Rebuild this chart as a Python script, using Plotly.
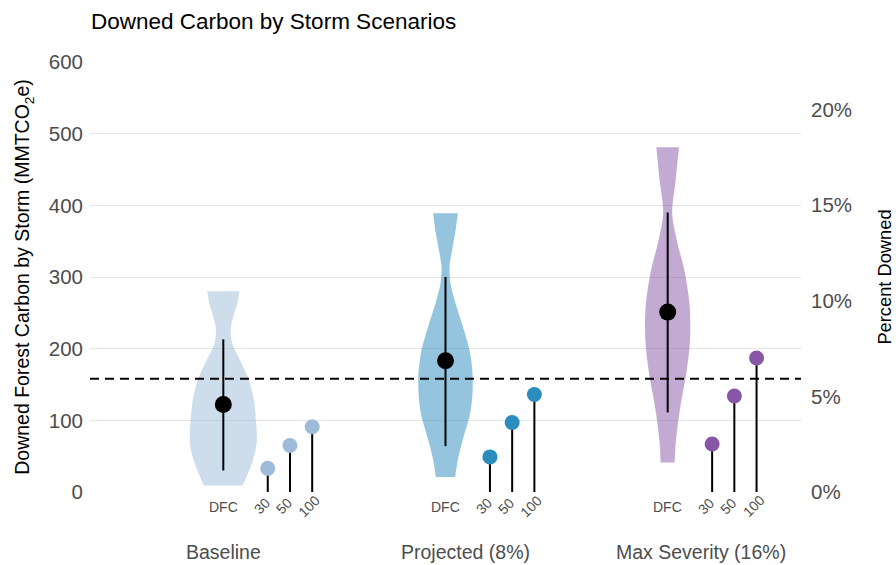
import plotly.graph_objects as go

# ---------------- data ----------------
groups = ["Baseline", "Projected (8%)", "Max Severity (16%)"]
storm_labels = ["30", "50", "100"]

# DFC summary (mean and interval) in MMTCO2e
dfc_mean = [122, 183, 251]
dfc_low = [30, 64, 111]
dfc_high = [213, 300, 390]

# downed carbon for storm return intervals 30, 50, 100
storm_baseline = [33, 65, 91]
storm_projected = [49, 97, 136]
storm_maxsev = [67, 134, 187]

# violin profiles: carbon values (top -> bottom) and relative density
vio_baseline_y = [280, 263, 245, 226, 207, 184, 161, 133, 105, 68, 40, 9]
vio_baseline_d = [0.48, 0.42, 0.30, 0.22, 0.27, 0.50, 0.73, 0.90, 0.97, 1.00, 0.86, 0.58]
vio_projected_y = [389, 361, 338, 314, 291, 268, 231, 198, 166, 138, 110, 73, 45, 21]
vio_projected_d = [0.37, 0.29, 0.20, 0.12, 0.15, 0.27, 0.52, 0.72, 0.81, 0.81, 0.74, 0.52, 0.37, 0.29]
vio_maxsev_y = [481, 435, 389, 352, 305, 259, 212, 166, 119, 73, 41]
vio_maxsev_d = [0.34, 0.24, 0.135, 0.27, 0.52, 0.66, 0.67, 0.56, 0.38, 0.25, 0.21]

reference_line = 158          # dashed reference (MMTCO2e)
total_carbon = 2667           # for percent axis (MMTCO2e)

colors = ["#9ebcda", "#2b8cbe", "#8856a7"]
violin_colors = ["rgba(158,188,218,0.5)", "rgba(43,140,190,0.5)", "rgba(136,86,167,0.5)"]

# ---------------- layout helpers ----------------
storm_offsets = [0.2, 0.3, 0.4]
violin_scale = 0.15
group_label_x = [0.0, 1.09, 2.15]

storms = [storm_baseline, storm_projected, storm_maxsev]
vio_y = [vio_baseline_y, vio_projected_y, vio_maxsev_y]
vio_d = [vio_baseline_d, vio_projected_d, vio_maxsev_d]

FONT = "Liberation Sans, Arial, sans-serif"
GREY = "#4d4d4d"

fig = go.Figure()


def dup_ends(seq):
    return [seq[0]] + list(seq) + [seq[-1]]


for g in range(3):
    ys = vio_y[g]
    ds = vio_d[g]
    xr = [g + d * violin_scale for d in ds]
    xl = [g - d * violin_scale for d in ds]
    px = dup_ends(xr) + dup_ends(xl[::-1])
    py = dup_ends(ys) + dup_ends(ys[::-1])
    fig.add_trace(go.Scatter(
        x=px, y=py, fill="toself",
        fillcolor=violin_colors[g], line=dict(width=0, shape="spline", smoothing=0.9),
        mode="lines", hoverinfo="skip", showlegend=False))

# lollipops
for g in range(3):
    sx, sy = [], []
    for i, v in enumerate(storms[g]):
        sx += [g + storm_offsets[i], g + storm_offsets[i], None]
        sy += [0, v, None]
    fig.add_trace(go.Scatter(x=sx, y=sy, mode="lines",
                             line=dict(color="black", width=2),
                             hoverinfo="skip", showlegend=False))
    fig.add_trace(go.Scatter(
        x=[g + o for o in storm_offsets], y=storms[g], mode="markers",
        marker=dict(size=15, color=colors[g]), showlegend=False))

# DFC mean with interval
fig.add_trace(go.Scatter(
    x=[0, 1, 2], y=dfc_mean, mode="markers",
    marker=dict(size=17, color="black"),
    error_y=dict(type="data", symmetric=False,
                 array=[h - m for h, m in zip(dfc_high, dfc_mean)],
                 arrayminus=[m - l for m, l in zip(dfc_mean, dfc_low)],
                 color="black", thickness=2, width=0),
    showlegend=False))

# invisible trace for the percent axis
fig.add_trace(go.Scatter(
    x=[g + storm_offsets[2] for g in range(3)],
    y=[s[2] / total_carbon for s in storms], yaxis="y2",
    mode="markers", marker=dict(opacity=0), hoverinfo="skip", showlegend=False))

# dashed reference line
fig.add_shape(type="line", xref="paper", x0=0, x1=1, yref="y",
              y0=reference_line, y1=reference_line,
              line=dict(color="black", width=2, dash="9px,6px"))

# sub labels
for g in range(3):
    fig.add_annotation(x=g, xref="x", y=-0.035, yref="paper", text="DFC",
                       showarrow=False, font=dict(size=14, color=GREY, family=FONT),
                       xanchor="center", yanchor="middle")
    for i, lab in enumerate(storm_labels):
        fig.add_annotation(x=g + storm_offsets[i], xref="x", y=-0.032, yref="paper",
                           text=lab, textangle=-45, showarrow=False,
                           xshift=3 * len(lab) - 12,
                           font=dict(size=14, color=GREY, family=FONT),
                           xanchor="center", yanchor="middle")
    fig.add_annotation(x=group_label_x[g], xref="x", y=-0.14, yref="paper",
                       text=groups[g], showarrow=False,
                       font=dict(size=19.5, color=GREY, family=FONT),
                       xanchor="center", yanchor="middle")

fig.update_layout(
    width=896, height=565,
    margin=dict(l=90, r=95, t=62, b=73),
    paper_bgcolor="white", plot_bgcolor="white",
    font=dict(family=FONT, color=GREY),
    title=dict(text="Downed Carbon by Storm Scenarios", x=91 / 896, xanchor="left",
               y=1 - 21 / 565, yanchor="middle",
               font=dict(size=22.5, color="black", family=FONT)),
    xaxis=dict(range=[-0.6, 2.6], showticklabels=False, showgrid=False,
               zeroline=False, showline=False, ticks=""),
    yaxis=dict(range=[0, 600], dtick=100, showgrid=True, gridcolor="#e5e5e5",
               gridwidth=1, zeroline=False, showline=False, ticks="",
               automargin=False, ticklabelstandoff=6,
               tickfont=dict(size=20.5, color=GREY, family=FONT),
               title=dict(text="Downed Forest Carbon by Storm (MMTCO<sub>2</sub>e)",
                          font=dict(size=19.5, color="black", family=FONT), standoff=13)),
    yaxis2=dict(range=[0, 600 / total_carbon], overlaying="y", side="right",
                tickformat=".0%", dtick=0.05, showgrid=False, zeroline=False,
                showline=False, ticks="", automargin=False, ticklabelstandoff=9,
                tickfont=dict(size=20.5, color=GREY, family=FONT),
                title=dict(text="Percent Downed",
                           font=dict(size=18.3, color="black", family=FONT), standoff=27)),
)

fig.write_html("out.html", config={"displayModeBar": False},
               post_script="document.body.style.margin='0';document.body.style.padding='0';")
